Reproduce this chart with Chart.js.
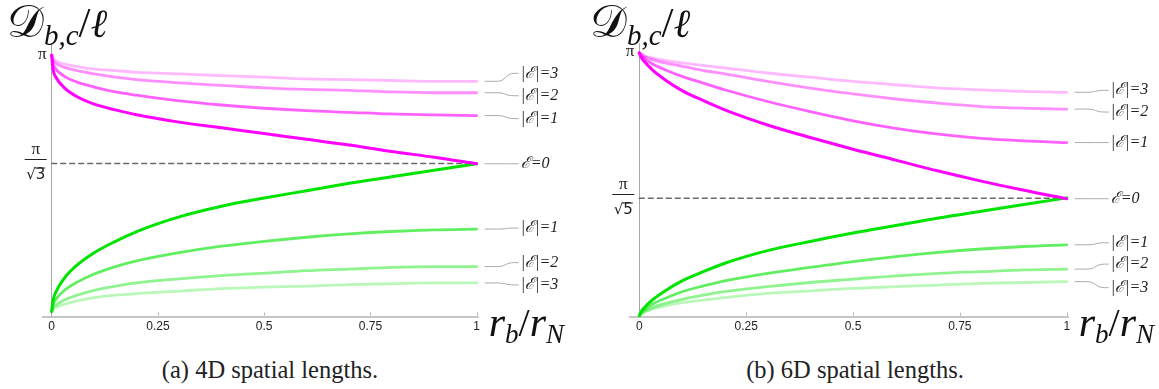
<!DOCTYPE html>
<html>
<head>
<meta charset="utf-8">
<script src="https://cdn.jsdelivr.net/npm/chart.js"></script>
<style>
  body { margin: 0; background: #fff; width: 1159px; height: 389px; overflow: hidden; position: relative; }
  canvas { position: absolute; top: 0; }
  #ca { left: 0; }
  #cb { left: 580px; }
  .cap { position: absolute; top: 357px; width: 400px; text-align: center; font-family: "Liberation Serif", "Times New Roman", "DejaVu Serif", serif; font-size: 24.5px; line-height: 25px; color: #222; }
</style>
</head>
<body>
<canvas id="ca" width="580" height="345"></canvas>
<canvas id="cb" width="579" height="345"></canvas>
<div class="cap" style="left:70px">(a) 4D spatial lengths.</div>
<div class="cap" style="left:655px">(b) 6D spatial lengths.</div>
<script>
// r_b / r_N sample points (shared by every curve)
const rb = [0, 0.003, 0.01, 0.03, 0.06, 0.1, 0.15, 0.2, 0.3, 0.4, 0.5, 0.6, 0.7, 0.8, 0.9, 1];
const xTicks = [0, 0.25, 0.5, 0.75, 1];

// 4D panel
const d4Mag0 = [3.14, 2.97, 2.87, 2.74, 2.63, 2.54, 2.47, 2.41, 2.32, 2.25, 2.18, 2.11, 2.04, 1.96, 1.89, 1.81];
const d4Mag1 = [3.14, 3.04, 2.97, 2.88, 2.81, 2.75, 2.69, 2.65, 2.58, 2.53, 2.49, 2.46, 2.44, 2.42, 2.41, 2.40];
const d4Mag2 = [3.14, 3.08, 3.04, 2.99, 2.95, 2.91, 2.87, 2.84, 2.80, 2.77, 2.74, 2.72, 2.71, 2.69, 2.68, 2.68];
const d4Mag3 = [3.14, 3.10, 3.07, 3.03, 3.00, 2.97, 2.95, 2.93, 2.91, 2.89, 2.87, 2.85, 2.84, 2.83, 2.82, 2.82];
const d4Grn0 = [0, 0.13, 0.24, 0.41, 0.57, 0.72, 0.86, 0.98, 1.16, 1.29, 1.39, 1.48, 1.57, 1.65, 1.73, 1.81];
const d4Grn1 = [0, 0.08, 0.15, 0.26, 0.36, 0.46, 0.55, 0.62, 0.72, 0.80, 0.86, 0.91, 0.95, 0.98, 1.00, 1.01];
const d4Grn2 = [0, 0.05, 0.08, 0.14, 0.20, 0.26, 0.31, 0.35, 0.40, 0.44, 0.47, 0.50, 0.52, 0.54, 0.55, 0.55];
const d4Grn3 = [0, 0.03, 0.05, 0.09, 0.13, 0.17, 0.20, 0.22, 0.25, 0.28, 0.30, 0.31, 0.33, 0.34, 0.35, 0.35];

// 6D panel
const d6Mag0 = [3.14, 3.10, 3.05, 2.94, 2.82, 2.69, 2.57, 2.46, 2.28, 2.13, 1.99, 1.86, 1.73, 1.61, 1.50, 1.40];
const d6Mag1 = [3.14, 3.12, 3.08, 3.01, 2.94, 2.86, 2.78, 2.70, 2.56, 2.44, 2.33, 2.24, 2.17, 2.12, 2.09, 2.07];
const d6Mag2 = [3.14, 3.13, 3.10, 3.06, 3.02, 2.98, 2.93, 2.89, 2.80, 2.72, 2.65, 2.59, 2.54, 2.50, 2.48, 2.47];
const d6Mag3 = [3.14, 3.13, 3.11, 3.08, 3.05, 3.02, 2.99, 2.96, 2.90, 2.85, 2.80, 2.76, 2.72, 2.70, 2.68, 2.67];
const d6Grn0 = [0, 0.04, 0.09, 0.19, 0.30, 0.42, 0.53, 0.63, 0.78, 0.89, 0.99, 1.08, 1.17, 1.25, 1.33, 1.41];
const d6Grn1 = [0, 0.03, 0.07, 0.14, 0.21, 0.29, 0.36, 0.42, 0.51, 0.58, 0.65, 0.71, 0.76, 0.80, 0.83, 0.85];
const d6Grn2 = [0, 0.02, 0.05, 0.10, 0.15, 0.20, 0.25, 0.29, 0.35, 0.40, 0.44, 0.48, 0.51, 0.53, 0.55, 0.56];
const d6Grn3 = [0, 0.02, 0.04, 0.08, 0.12, 0.16, 0.19, 0.22, 0.27, 0.30, 0.33, 0.35, 0.37, 0.39, 0.40, 0.41];

const curveLabels = ['ℰ=0', '|ℰ|=1', '|ℰ|=2', '|ℰ|=3'];
const MAG = 'rgba(255,0,255,A)';
const GRN = 'rgba(0,228,0,A)';
const alphas = [1, 0.62, 0.44, 0.27];
const SERIF = '"Liberation Serif", "Times New Roman", "DejaVu Serif", serif';

function pts(ys) { return ys.map((y, i) => ({ x: rb[i], y: y })); }

function mathRun(ctx, parts, x, y) {
  parts.forEach(([t, font, dy]) => {
    ctx.font = font;
    ctx.fillText(t, x, y + dy);
    x += ctx.measureText(t).width;
  });
}

function decor(cfg) {
  return {
    id: 'decor',
    afterDraw(chart) {
      const ctx = chart.ctx, sx = chart.scales.x, sy = chart.scales.y;
      const ax = sx.getPixelForValue(0);
      const axisY = sy.getPixelForValue(sy.min);
      ctx.save();
      // small inward ticks
      ctx.strokeStyle = '#b4b4b4';
      ctx.lineWidth = 1;
      xTicks.slice(1).forEach(v => {
        const p = Math.round(sx.getPixelForValue(v)) + 0.5;
        ctx.beginPath(); ctx.moveTo(p, axisY - 1); ctx.lineTo(p, axisY - 4); ctx.stroke();
      });

      // y labels
      ctx.fillStyle = '#222';
      ctx.textAlign = 'right';
      ctx.textBaseline = 'middle';
      ctx.font = '17px ' + SERIF;
      ctx.fillText('π', ax - 5, sy.getPixelForValue(Math.PI) - 1);
      const fy = Math.round(sy.getPixelForValue(cfg.dashValue)) - 4 + 0.5;
      const fx = ax - 16;
      ctx.textAlign = 'center';
      ctx.fillText('π', fx, fy - 10);
      ctx.strokeStyle = '#222';
      ctx.beginPath(); ctx.moveTo(ax - 27, fy); ctx.lineTo(ax - 5, fy); ctx.stroke();
      ctx.font = '15px "DejaVu Sans"';
      const rootTxt = '√' + cfg.root;
      const w = ctx.measureText(rootTxt).width, dw = ctx.measureText(cfg.root).width;
      ctx.fillText(rootTxt, fx, fy + 16);
      ctx.beginPath();
      ctx.moveTo(fx + w / 2 - dw - 1, fy + 8.5); ctx.lineTo(fx + w / 2, fy + 8.5); ctx.stroke();

      // curve labels with leader lines
      const x0 = sx.getPixelForValue(1) + 8;
      ctx.textAlign = 'left';
      ctx.font = 'italic 16px ' + SERIF;
      cfg.labels.forEach(l => {
        const y = sy.getPixelForValue(l.series[l.series.length - 1]);
        const yl = y + l.dy;
        ctx.strokeStyle = '#aaa';
        ctx.beginPath();
        ctx.moveTo(x0, y); ctx.lineTo(x0 + 12, y);
        ctx.bezierCurveTo(x0 + 22, y, x0 + 20, yl, x0 + 30, yl);
        ctx.lineTo(x0 + 34, yl);
        ctx.stroke();
        ctx.fillStyle = '#222';
        ctx.fillText(l.text, x0 + 36, yl);
      });

      // axis titles
      ctx.textBaseline = 'alphabetic';
      ctx.fillStyle = '#111';
      mathRun(ctx, [
        ['𝒟', '46px "DejaVu Serif", "DejaVu Sans"', 0],
        ['b,c', 'italic 29px ' + SERIF, 8],
        ['/', '43px ' + SERIF, 0],
        ['ℓ', 'italic 40px "DejaVu Serif"', 0]
      ], cfg.titleX, 37);
      mathRun(ctx, [
        ['r', 'italic 42px ' + SERIF, 0],
        ['b', 'italic 27px ' + SERIF, 7],
        ['/', '40px ' + SERIF, 0],
        ['r', 'italic 42px ' + SERIF, 0],
        ['N', 'italic 27px ' + SERIF, 7]
      ], sx.getPixelForValue(1) + 12, 336);
      ctx.restore();
    }
  };
}

function build(id, mags, grns, dashValue, root, ranges, pad, titleX, dys) {
  const datasets = [];
  [0, 1, 2, 3].forEach(k => {
    datasets.push({ data: pts(mags[k]), borderColor: MAG.replace('A', alphas[k]), borderWidth: k === 0 ? 3 : 2.8 });
    datasets.push({ data: pts(grns[k]), borderColor: GRN.replace('A', alphas[k]), borderWidth: k === 0 ? 3 : 2.8 });
  });
  datasets.push({ data: [{ x: 0, y: dashValue }, { x: 1, y: dashValue }], borderColor: '#6a6a6a', borderWidth: 1.4, borderDash: [5, 4] });

  const labels = [];
  [3, 2, 1].forEach(k => labels.push({ text: curveLabels[k], series: mags[k], dy: dys.mag[k] }));
  labels.push({ text: curveLabels[0], series: mags[0], dy: 0 });
  [1, 2, 3].forEach(k => labels.push({ text: curveLabels[k], series: grns[k], dy: dys.grn[k] }));

  return new Chart(document.getElementById(id), {
    type: 'line',
    data: { datasets },
    options: {
      responsive: false,
      animation: false,
      events: [],
      layout: { padding: pad },
      elements: {
        point: { radius: 0 },
        line: { cubicInterpolationMode: 'monotone', fill: false, borderCapStyle: 'round' }
      },
      plugins: { legend: { display: false }, tooltip: { enabled: false } },
      scales: {
        x: {
          type: 'linear', min: ranges.x[0], max: ranges.x[1],
          afterBuildTicks: s => { s.ticks = xTicks.map(v => ({ value: v })); },
          afterFit: s => { s.height = 20; },
          ticks: { callback: v => String(v), color: '#222', font: { family: 'Liberation Sans', size: 12 }, padding: 3, maxRotation: 0, autoSkip: false },
          grid: { display: false, drawTicks: false },
          border: { color: '#c6c6c6', width: 2 }
        },
        y: {
          type: 'linear', min: ranges.y[0], max: ranges.y[1],
          position: { x: 0 },
          afterFit: s => { s.width = 0; },
          ticks: { display: false },
          grid: { display: false, drawTicks: false },
          border: { color: '#a8a8a8', width: 1 }
        }
      }
    },
    plugins: [decor({ dashValue, root, labels, titleX })]
  });
}

build('ca',
  [d4Mag0, d4Mag1, d4Mag2, d4Mag3], [d4Grn0, d4Grn1, d4Grn2, d4Grn3],
  Math.PI / Math.sqrt(3), '3',
  { x: [-0.02, 1.005], y: [-0.061, 3.288] },
  { left: 43.2, right: 101.2, top: 43.1, bottom: 8.5 }, 7,
  { mag: [0, 3, 3, -8], grn: [0, -1, -4, 2] });

build('cb',
  [d6Mag0, d6Mag1, d6Mag2, d6Mag3], [d6Grn0, d6Grn1, d6Grn2, d6Grn3],
  Math.PI / Math.sqrt(5), '5',
  { x: [-0.022, 1.003], y: [-0.008, 3.257] },
  { left: 49.9, right: 91, top: 43.1, bottom: 8.3 }, 10,
  { mag: [0, 0, 3, -2], grn: [0, -2, -5, 6] });
</script>
</body>
</html>
